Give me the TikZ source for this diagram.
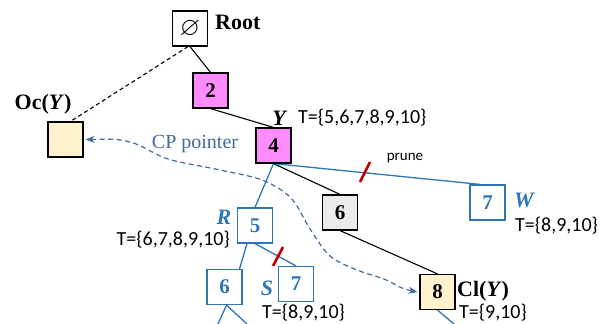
\documentclass[tikz,border=0pt]{standalone}
\usepackage{amssymb}
\usepackage{fontspec}
\setmainfont{Liberation Serif}
\newfontfamily\calfont{Carlito}
\usetikzlibrary{arrows.meta}
\definecolor{pinkfill}{HTML}{FF8CFF}
\definecolor{creamfill}{HTML}{FFF2CC}
\definecolor{greyfill}{HTML}{EBEBEB}
\definecolor{tblue}{HTML}{2E75B6}
\definecolor{cpblue}{HTML}{41699C}
\definecolor{prunered}{HTML}{C00000}
\tikzset{
  box/.style={draw=black, line width=1.2pt, minimum size=35pt, inner sep=0pt,
    font=\fontsize{21}{21}\selectfont\bfseries},
  bbox/.style={box, draw=tblue, fill=white, text=tblue},
  lbl/.style={inner sep=0pt, font=\fontsize{22}{22}\selectfont\bfseries},
  blbl/.style={inner sep=0pt, text=tblue, font=\fontsize{22}{22}\selectfont\bfseries\itshape},
  tset/.style={inner sep=0pt, font=\calfont\fontsize{20}{20}\selectfont},
  edge/.style={line width=1.1pt, black},
  bedge/.style={line width=1.3pt, tblue},
  prunemark/.style={line width=2.6pt, prunered},
  cp/.style={line width=1.2pt, cpblue, dash pattern=on 5pt off 3.5pt,
    {Stealth[length=9pt,width=7pt]}-{Stealth[length=9pt,width=7pt]}},
}
\begin{document}
\begin{tikzpicture}[x=1pt,y=-1pt]
\useasboundingbox (0,0) rectangle (608,324);
% nodes
\node[box, fill=white, font=\fontsize{26}{26}\selectfont] (root) at (190,28.5) {$\varnothing$};
\node[lbl, anchor=west] (rootl) at (215,22) {Root};
\node[box, fill=pinkfill] (n2) at (210.5,90.5) {2};
\node[box, fill=creamfill] (oc) at (65.5,139.5) {};
\node[lbl] (ocl) at (43,104) {Oc(\textit{Y})};
\node[box, fill=pinkfill] (n4) at (273.5,145.5) {4};
\node[lbl] (yl) at (280,118) {\textit{Y}};
\node[tset, anchor=west] (t4) at (298,118) {T=\{5,6,7,8,9,10\}};
\node[box, fill=greyfill] (n6) at (340,212.5) {6};
\node[bbox] (w7) at (487.5,202.5) {7};
\node[blbl] (wl) at (524,200) {W};
\node[tset, anchor=west] (tw) at (515,226) {T=\{8,9,10\}};
\node[box, fill=creamfill] (n8) at (437.5,292) {8};
\node[lbl, anchor=west] (cll) at (457,291) {Cl(\textit{Y})};
\node[tset, anchor=west] (t8) at (459,313) {T=\{9,10\}};
\node[bbox] (n5) at (255,225.5) {5};
\node[blbl] (rl) at (224,217) {R};
\node[tset, anchor=east] (t5) at (230,240) {T=\{6,7,8,9,10\}};
\node[bbox] (n6b) at (224.5,287) {6};
\node[bbox] (s7) at (296,284) {7};
\node[blbl] (sl) at (267,288) {S};
\node[tset, anchor=west] (ts) at (262,313) {T=\{8,9,10\}};
\node[inner sep=0pt, font=\calfont\fontsize{15}{15}\selectfont] (prune) at (405,158) {prune};
\node[inner sep=0pt, text=cpblue, font=\fontsize{20}{20}\selectfont] (cpl) at (195,144) {CP pointer};
\coordinate (d1) at (218,324);
\coordinate (d2) at (247,324);
\coordinate (d3) at (454,324);
% edges
\begin{scope}[on background layer/.style={}]
\end{scope}
\draw[edge] (root.south) -- (n2.north);
\draw[edge, dashed, dash pattern=on 4pt off 3pt] ([xshift=-2pt]root.south) -- ([xshift=5pt]oc.north);
\draw[edge] (n2.south) -- (n4.north);
\draw[edge] (n4.south) -- (n6.north);
\draw[edge] (n6.south) -- (n8.north);
\draw[bedge] (n4.south) -- (n5.north);
\draw[bedge] (n4.south) -- ([xshift=11pt]w7.north west);
\draw[bedge] ([xshift=-8pt]n5.south) -- ([xshift=15pt]n6b.north);
\draw[bedge] (n5.south) -- (s7.north);
\draw[bedge] ([xshift=2pt]n6b.south) -- (d1);
\draw[bedge] ([xshift=2pt]n6b.south) -- (d2);
\draw[bedge] (n8.south) -- (d3);
% redraw boxes on top
\node[box, fill=white, font=\fontsize{26}{26}\selectfont] at (root) {$\varnothing$};
\node[box, fill=pinkfill] at (n2) {2};
\node[box, fill=creamfill] at (oc) {};
\node[box, fill=pinkfill] at (n4) {4};
\node[box, fill=greyfill] at (n6) {6};
\node[bbox] at (w7) {7};
\node[box, fill=creamfill] at (n8) {8};
\node[bbox] at (n5) {5};
\node[bbox] at (n6b) {6};
\node[bbox] at (s7) {7};
% prune marks
\draw[prunemark] (370,162) -- (360,182);
\draw[prunemark] (283,247) -- (273,266);
% CP pointer
\draw[cp] plot[smooth, tension=0.55] coordinates {([xshift=2pt]oc.east) (130,142) (168,159) (220,170) (262,180) (291,198) (310,229) (330,256) (357,270) (384,279) (402,288) ([xshift=-2pt]n8.west)};
\end{tikzpicture}
\end{document}
